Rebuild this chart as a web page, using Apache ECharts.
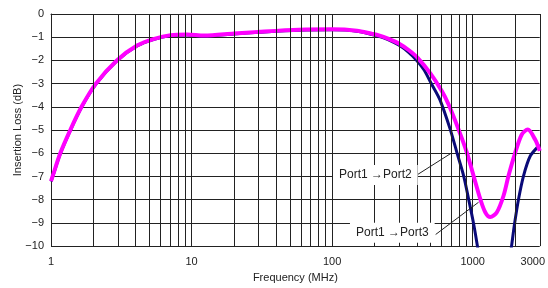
<!DOCTYPE html>
<html>
<head>
<meta charset="utf-8">
<script src="https://cdn.jsdelivr.net/npm/echarts@6/dist/echarts.min.js"></script>
<style>
html, body { margin: 0; padding: 0; background: #fff; }
#chart { width: 548px; height: 288px; }
</style>
</head>
<body>
<div id="chart"></div>
<script>
// Port1 -> Port2 (magenta)
var freqP2 = [1, 1.026, 1.164, 1.371, 1.649, 2.087, 2.94, 4.12, 5.42, 7.1, 9.3, 12.3, 20, 30, 58, 100, 150, 191, 215, 250, 300, 350, 400, 500, 600, 674, 794, 910, 1014, 1132, 1228, 1333, 1486, 1657, 1798, 2005, 2235, 2465, 2781, 3000];
var lossP2 = [-7.2, -7.0, -6.0, -5.0, -4.0, -3.0, -2.0, -1.35, -1.07, -0.91, -0.88, -0.93, -0.84, -0.77, -0.68, -0.66, -0.72, -0.85, -0.92, -1.06, -1.28, -1.55, -1.85, -2.56, -3.3, -3.9, -4.98, -5.98, -6.97, -7.97, -8.54, -8.75, -8.54, -7.83, -6.97, -5.98, -5.19, -4.98, -5.41, -5.9];
// Port1 -> Port3 (navy)
var freqP3 = [1, 1.026, 1.164, 1.371, 1.649, 2.087, 2.94, 4.12, 5.42, 7.1, 9.3, 12.3, 20, 30, 58, 100, 150, 215, 250, 300, 350, 400, 450, 505, 585, 693, 773, 862, 935, 1015, 1088, 1200, 1350, 1500, 1650, 1780, 1880, 1985, 2120, 2300, 2567, 2940, 3000];
var lossP3 = [-7.22, -7.02, -6.02, -5.02, -4.02, -3.02, -2.02, -1.37, -1.09, -0.93, -0.9, -0.95, -0.86, -0.79, -0.7, -0.68, -0.74, -0.96, -1.1, -1.35, -1.65, -2.0, -2.4, -2.97, -3.7, -4.98, -5.98, -6.97, -7.97, -9.04, -10.1, -11.6, -12.6, -12.8, -12.2, -11.1, -10.1, -9.04, -7.97, -6.97, -6.12, -5.69, -5.65];
var minorGrid = [2, 3, 4, 5, 6, 7, 8, 9, 20, 30, 40, 50, 60, 70, 80, 90, 200, 300, 400, 500, 600, 700, 800, 900, 2000];
var noteP2 = { text: 'Port1 \u2192Port2', at: [203, -6.94], from: [400, -6.94], to: [711, -5.98] };
var noteP3 = { text: 'Port1 \u2192Port3', at: [268, -9.42], from: [545, -9.5], to: [1101, -8.11] };

var font = '"Liberation Sans", Arial, sans-serif';

function pairs(xs, ys) {
    var out = [];
    for (var i = 0; i < xs.length; i++) {
        out.push([xs[i], ys[i]]);
    }
    return out;
}

var chart = echarts.init(document.getElementById('chart'));
var option = {
    animation: false,
    grid: { left: 51, right: 7, top: 14, bottom: 40 },
    xAxis: {
        type: 'log',
        logBase: 10,
        min: 1,
        max: 3000,
        name: 'Frequency (MHz)',
        nameLocation: 'middle',
        nameGap: 20,
        nameTextStyle: { fontFamily: font, fontSize: 11, color: '#222' },
        axisLine: { lineStyle: { color: '#222', width: 1 } },
        axisTick: { show: false },
        axisLabel: {
            fontFamily: font, fontSize: 11, color: '#222', margin: 10,
            formatter: function (v) {
                var s = String(Math.round(v));
                return Math.round(v) === 3000 ? '{m|' + s + '}' : s;
            },
            rich: {
                m: { fontFamily: font, fontSize: 11, color: '#222', padding: [0, 14, 0, 0] }
            }
        },
        splitLine: { show: true, lineStyle: { color: '#222', width: 1 } }
    },
    yAxis: {
        type: 'value',
        min: -10,
        max: 0,
        interval: 1,
        name: 'Insertion Loss (dB)',
        nameLocation: 'middle',
        nameGap: 28,
        nameMoveOverlap: false,
        nameTextStyle: { fontFamily: font, fontSize: 11, color: '#222' },
        axisLine: { show: true, lineStyle: { color: '#222', width: 1 } },
        axisTick: { show: false },
        axisLabel: {
            fontFamily: font, fontSize: 11, color: '#222', margin: 7,
            formatter: function (v) { return String(v).replace('-', '\u2212'); }
        },
        splitLine: { show: true, lineStyle: { color: '#222', width: 1 } }
    },
    series: [
        {
            type: 'line',
            name: 'grid',
            data: [],
            silent: true,
            markLine: {
                silent: true,
                symbol: ['none', 'none'],
                label: { show: false },
                lineStyle: { color: '#222', width: 1, type: 'solid' },
                data: minorGrid.map(function (f) { return { xAxis: f }; })
            }
        },
        {
            type: 'line',
            name: 'Port1→Port3',
            data: pairs(freqP3, lossP3),
            showSymbol: false,
            smooth: 0.3,
            clip: true,
            lineStyle: { color: '#0a0a78', width: 3 },
            z: 3
        },
        {
            type: 'line',
            name: 'Port1→Port2',
            data: pairs(freqP2, lossP2),
            showSymbol: false,
            smooth: 0.3,
            clip: true,
            lineStyle: { color: '#ff00ff', width: 4 },
            z: 4,
            markLine: {
                silent: true,
                symbol: ['none', 'arrow'],
                symbolSize: [0, 6],
                label: { show: false },
                lineStyle: { color: '#222', width: 1, type: 'solid' },
                data: [
                    [{ coord: noteP2.from }, { coord: noteP2.to }],
                    [{ coord: noteP3.from }, { coord: noteP3.to }]
                ]
            }
        }
    ]
};
chart.setOption(option);

// annotation boxes, placed from data coordinates
var notes = [noteP2, noteP3];
chart.setOption({
    graphic: notes.map(function (n) {
        var p = chart.convertToPixel({ gridIndex: 0 }, n.at);
        return {
            type: 'text',
            x: p[0],
            y: p[1],
            z: 100,
            style: {
                text: n.text,
                fill: '#222',
                font: '12px ' + font,
                align: 'center',
                verticalAlign: 'middle',
                backgroundColor: '#fff',
                padding: [4, 6]
            }
        };
    })
});
</script>
</body>
</html>
